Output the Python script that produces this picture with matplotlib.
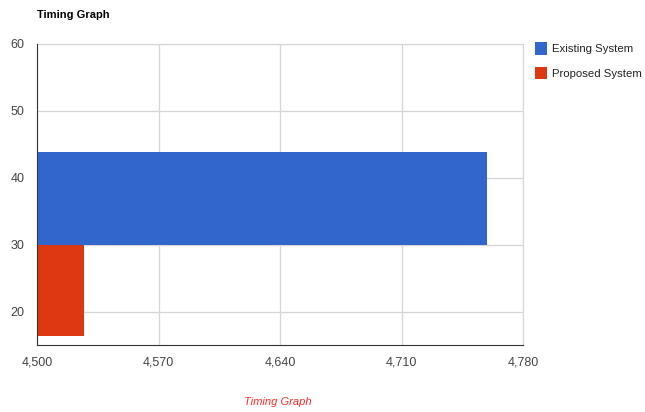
import matplotlib
matplotlib.use("Agg")
import matplotlib.pyplot as plt
from matplotlib.patches import Patch

# data
series = ["Existing System", "Proposed System"]
values = [4759, 4527]
bar_bottoms = [30, 16.3]
bar_heights = [13.8, 13.7]
colors = ["#3366cc", "#dc3912"]
x_ticks = [4500, 4570, 4640, 4710, 4780]
y_ticks = [20, 30, 40, 50, 60]

plt.rcParams["font.family"] = ["Liberation Sans", "DejaVu Sans"]

fig = plt.figure(figsize=(6.45, 4.12), dpi=100)
ax = fig.add_axes([37 / 645, 1 - 344.5 / 412, 486 / 645, 300.5 / 412])

x0 = x_ticks[0]
for val, b, h, c in zip(values, bar_bottoms, bar_heights, colors):
    ax.barh(b, val - x0, height=h, left=x0, align="edge", color=c, zorder=3)

ax.set_xlim(x_ticks[0], x_ticks[-1])
ax.set_ylim(15.1, 60)
ax.set_xticks(x_ticks)
ax.set_xticklabels([f"{t:,}" for t in x_ticks])
ax.set_yticks(y_ticks)
ax.grid(True, color="#d6d6d6", linewidth=0.9, zorder=0)
ax.tick_params(length=0, colors="#444444", labelsize=9)
ax.tick_params(axis="x", pad=8.5)
ax.tick_params(axis="y", pad=9)

for s in ["top", "right"]:
    ax.spines[s].set_color("#d6d6d6")
for s in ["left", "bottom"]:
    ax.spines[s].set_color("#333333")
    ax.spines[s].set_zorder(4)

fig.text(37 / 645, 1 - 15 / 412, "Timing Graph", fontsize=8, fontweight="bold",
         va="center", ha="left", color="#000000")
fig.text(278 / 645, 1 - 402 / 412, "Timing Graph", fontsize=8, style="italic",
         va="center", ha="center", color="#ff2a2a")

handles = [Patch(facecolor=c, edgecolor="none", label=s) for s, c in zip(series, colors)]
fig.legend(handles=handles, loc="upper left", bbox_to_anchor=(535 / 645, 1 - 42.5 / 412),
           frameon=False, fontsize=8.2, handlelength=1.05, handleheight=1.25,
           handletextpad=0.45, labelspacing=1.1, borderpad=0, borderaxespad=0,
           labelcolor="#222222")

fig.savefig("out.png", dpi=100)
